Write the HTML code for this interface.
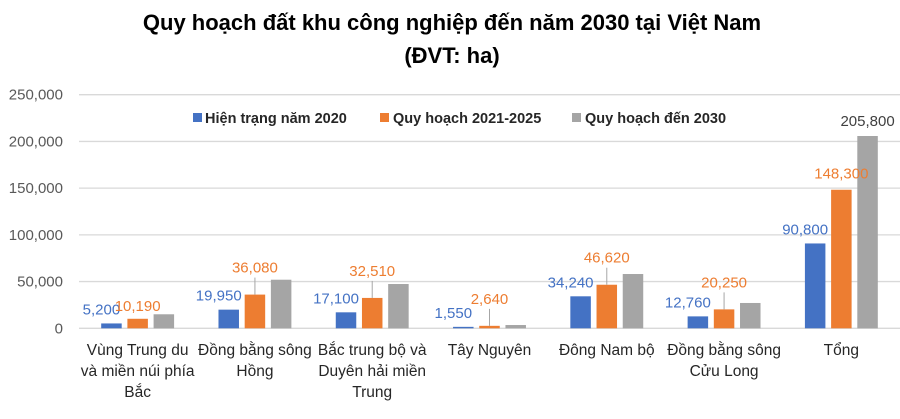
<!DOCTYPE html>
<html><head><meta charset="utf-8"><style>
body{margin:0;background:#fff;}
svg text{font-family:"Liberation Sans","DejaVu Sans",sans-serif;}
</style></head><body>
<svg width="900" height="414" viewBox="0 0 900 414" xmlns="http://www.w3.org/2000/svg" id="chart">
<text x="452" y="30" text-anchor="middle" font-size="22" font-weight="bold" fill="#000">Quy hoạch đất khu công nghiệp đến năm 2030 tại Việt Nam</text>
<text x="452" y="63" text-anchor="middle" font-size="22" font-weight="bold" fill="#000">(ĐVT: ha)</text>
<g id="grid"></g><g id="bars"></g><g id="labels"></g>
<g>
<rect x="193" y="113" width="9" height="9" fill="#4472C4"/>
<text x="205" y="123" font-size="14.5" font-weight="bold" fill="#262626">Hiện trạng năm 2020</text>
<rect x="380" y="113" width="9" height="9" fill="#ED7D31"/>
<text x="393" y="123" font-size="14.5" font-weight="bold" fill="#262626">Quy hoạch 2021-2025</text>
<rect x="572" y="113" width="9" height="9" fill="#A5A5A5"/>
<text x="585" y="123" font-size="14.5" font-weight="bold" fill="#262626">Quy hoạch đến 2030</text>
</g>
</svg>
<script>
const categories=[["Vùng Trung du","và miền núi phía","Bắc"],["Đồng bằng sông","Hồng"],["Bắc trung bộ và","Duyên hải miền","Trung"],["Tây Nguyên"],["Đông Nam bộ"],["Đồng bằng sông","Cửu Long"],["Tổng"]];
const s2020=[5200,19950,17100,1550,34240,12760,90800];
const s2025=[10190,36080,32510,2640,46620,20250,148300];
const s2030=[15000,52000,47400,3500,58100,27100,205800];
const yTicks=[0,50000,100000,150000,200000,250000];
const NS="http://www.w3.org/2000/svg";
const L=79,R=900,Y0=328.3,Y1=94.7,MAX=250000;
const y=v=>Y0-(v/MAX)*(Y0-Y1);
const band=(R-L)/categories.length;
const cx=i=>L+band*(i+0.5);
const fmt=v=>v.toLocaleString('en-US');
function mk(tag,attrs,parent){const e=document.createElementNS(NS,tag);for(const k in attrs)e.setAttribute(k,attrs[k]);parent.appendChild(e);return e;}
const grid=document.getElementById('grid'),bars=document.getElementById('bars'),labels=document.getElementById('labels');
yTicks.forEach(t=>{
 const ln=mk('line',{x1:L,x2:R,y1:y(t),y2:y(t),stroke:'#D9D9D9','stroke-width':1.3},grid);
 
 
 const tx=mk('text',{x:63,y:y(t)+5,'text-anchor':'end','font-size':15,fill:'#595959'},grid);
 tx.textContent=fmt(t);
 
 
});
const series=[{d:s2020,c:'#4472C4',n:'2020'},{d:s2025,c:'#ED7D31',n:'2025'},{d:s2030,c:'#A5A5A5',n:'2030'}];
const bw=20.5,step=26.2;
categories.forEach((cat,i)=>{
 series.forEach((s,j)=>{
  const x=cx(i)+(j-1)*step-bw/2;
  const r=mk('rect',{x:x,y:y(s.d[i]),width:bw,height:Y0-y(s.d[i]),fill:s.c},bars);
  
  
  let lx,ly,show=true;
  if(j===0){lx=x+bw/2-10;ly=y(s.d[i])-9;}
  else if(j===1){lx=x+bw/2;ly=y(s.d[i])-22;
   if(i!==0&&i!==6){const ll=mk('line',{x1:lx,x2:lx,y1:ly+5,y2:y(s.d[i]),stroke:'#A6A6A6','stroke-width':1},labels);
    
    }
   if(i===0)ly=y(s.d[i])-8;
   if(i===6)ly=y(s.d[i])-11;}
  else{show=(i===6);lx=x+bw/2;ly=y(s.d[i])-10;}
  if(show){
   const t=mk('text',{x:lx,y:ly,'text-anchor':'middle','font-size':15,fill:j===0?'#4472C4':(j===1?'#ED7D31':'#404040')},labels);
   t.textContent=fmt(s.d[i]);
   
   
  }
 });
 cat.forEach((line,k)=>{
  const t=mk('text',{x:cx(i),y:355+k*21,'text-anchor':'middle','font-size':15.5,fill:'#262626'},labels);
  t.textContent=line;
  
  
 });
});
</script>
</body></html>
